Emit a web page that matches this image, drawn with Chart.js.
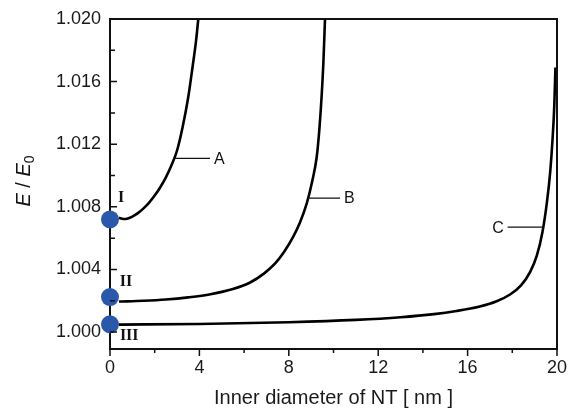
<!DOCTYPE html>
<html lang="en">

<head>
    <meta charset="UTF-8">
    <title>E/E0 vs inner diameter</title>
    <style>
        html, body { margin: 0; padding: 0; background: #fff; }
    </style>
</head>

<body>

    <div style="width: 569px; height: 412px;">
        <canvas id="myChart"></canvas>
    </div>

    <script src="https://cdn.jsdelivr.net/npm/chart.js"></script>
    <script>
        // curve A
        const aX = [0.4, 0.6, 0.8, 1.0, 1.25, 1.5, 1.75, 2.0, 2.25, 2.5, 2.75, 3.0, 3.25, 3.5, 3.7, 3.85, 3.95];
        const aY = [1.00730, 1.00722, 1.00726, 1.00738, 1.00760, 1.00790, 1.00827, 1.00872, 1.00925, 1.00988, 1.01065, 1.01160, 1.01310, 1.01500, 1.01700, 1.01860, 1.02000];
        // curve B
        const bX = [0.4, 1.5, 2.5, 3.5, 4.5, 5.5, 6.25, 6.9, 7.4, 7.8, 8.2, 8.5, 8.8, 9.05, 9.25, 9.37, 9.47, 9.55, 9.62];
        const bY = [1.00195, 1.00200, 1.00208, 1.00222, 1.00242, 1.00275, 1.00315, 1.00375, 1.00440, 1.00515, 1.00610, 1.00700, 1.00820, 1.00965, 1.01120, 1.01300, 1.01510, 1.01730, 1.02000];
        // curve C
        const cX = [0.4, 4, 8, 11, 13, 14.5, 15.5, 16.5, 17.3, 17.9, 18.4, 18.8, 19.1, 19.35, 19.55, 19.7, 19.8, 19.88, 19.93];
        const cY = [1.00048, 1.00052, 1.00063, 1.00078, 1.00095, 1.00115, 1.00135, 1.00162, 1.00197, 1.00240, 1.00300, 1.00385, 1.00490, 1.00640, 1.00830, 1.01030, 1.01230, 1.01450, 1.01690];
        // blue points at d = 0 (I, II, III)
        const dotY = [1.0072, 1.00224, 1.0005];
        const dotNames = ['I', 'II', 'III'];

        const xTicks = [0, 4, 8, 12, 16, 20];
        const xMinor = [2, 6, 10, 14, 18];
        const yTicks = [1.000, 1.004, 1.008, 1.012, 1.016, 1.020];
        const yMinor = [1.002, 1.006, 1.010, 1.014, 1.018];

        const pts = (xs, ys) => xs.map((x, i) => ({ x: x, y: ys[i] }));

        const SANS = '"Liberation Sans", Arial, sans-serif';
        const SERIF = '"Liberation Serif", "Times New Roman", serif';

        // leader lines for the curve names: start on the curve, run len px sideways
        const leaders = [
            { x: 2.82, y: 1.0111, len: 37, text: 'A', dir: 1 },
            { x: 8.86, y: 1.00856, len: 32, text: 'B', dir: 1 },
            { x: 19.36, y: 1.0067, len: 35, text: 'C', dir: -1 }
        ];
        const romanPos = [
            { x: 0.5, y: 1.0086 },
            { x: 0.72, y: 1.0032 },
            { x: 0.86, y: 0.99975 }
        ];

        const extras = {
            id: 'extras',
            afterDatasetsDraw(chart) {
                const c = chart.ctx;
                const xs = chart.scales.x, ys = chart.scales.y;
                const a = chart.chartArea;
                c.save();
                c.strokeStyle = '#111';
                c.fillStyle = '#111';
                // frame top / right
                c.lineWidth = 2;
                c.beginPath();
                c.moveTo(a.left, a.top);
                c.lineTo(a.right, a.top);
                c.lineTo(a.right, a.bottom);
                c.stroke();
                // y ticks, pointing inward
                c.lineWidth = 1.5;
                c.beginPath();
                yTicks.forEach(v => { const p = ys.getPixelForValue(v); c.moveTo(a.left, p); c.lineTo(a.left + 7, p); });
                yMinor.forEach(v => { const p = ys.getPixelForValue(v); c.moveTo(a.left, p); c.lineTo(a.left + 5, p); });
                // x ticks, pointing outward
                xTicks.forEach(v => { const p = xs.getPixelForValue(v); c.moveTo(p, a.bottom); c.lineTo(p, a.bottom + 7); });
                xMinor.forEach(v => { const p = xs.getPixelForValue(v); c.moveTo(p, a.bottom); c.lineTo(p, a.bottom + 4); });
                c.stroke();
                // curve labels
                c.lineWidth = 1.3;
                c.font = '16px ' + SANS;
                c.textBaseline = 'middle';
                leaders.forEach(l => {
                    const px = xs.getPixelForValue(l.x), py = ys.getPixelForValue(l.y);
                    c.beginPath();
                    c.moveTo(px, py);
                    c.lineTo(px + l.dir * l.len, py);
                    c.stroke();
                    c.textAlign = l.dir > 0 ? 'left' : 'right';
                    c.fillText(l.text, px + l.dir * (l.len + 4), py + 1);
                });
                // roman numerals
                c.font = 'bold 16px ' + SERIF;
                c.textAlign = 'center';
                romanPos.forEach((r, i) => {
                    c.fillText(dotNames[i], xs.getPixelForValue(r.x), ys.getPixelForValue(r.y));
                });
                // y axis title: E / E0
                c.translate(23, 181);
                c.rotate(-Math.PI / 2);
                c.textAlign = 'left';
                c.textBaseline = 'alphabetic';
                const big = '20px ' + SANS, it = 'italic 20px ' + SANS, sub = '14px ' + SANS;
                c.font = it; const w1 = c.measureText('E').width;
                c.font = big; const w2 = c.measureText(' / ').width;
                c.font = sub; const w3 = c.measureText('0').width;
                let x0 = -(w1 * 2 + w2 + w3) / 2;
                const base = 7;
                c.font = it; c.fillText('E', x0, base); x0 += w1;
                c.font = big; c.fillText(' / ', x0, base); x0 += w2;
                c.font = it; c.fillText('E', x0, base); x0 += w1;
                c.font = sub; c.fillText('0', x0, base + 4);
                c.restore();
            }
        };

        const ctx = document.getElementById('myChart');

        const curve = (label, data) => ({
            label: label,
            data: data,
            borderColor: '#000',
            borderWidth: 2.6,
            pointRadius: 0,
            fill: false,
            cubicInterpolationMode: 'monotone'
        });

        new Chart(ctx, {
            type: 'line',
            data: {
                datasets: [
                    curve('A', pts(aX, aY)),
                    curve('B', pts(bX, bY)),
                    curve('C', pts(cX, cY)),
                    {
                        label: 'points',
                        data: dotY.map(v => ({ x: 0, y: v })),
                        showLine: false,
                        pointRadius: 9,
                        pointHoverRadius: 9,
                        pointBackgroundColor: '#2a58aa',
                        pointBorderColor: '#2a58aa',
                        borderWidth: 0,
                        clip: false
                    }
                ]
            },
            options: {
                responsive: true,
                maintainAspectRatio: false,
                animation: false,
                layout: { padding: { top: 19, right: 12, left: 0, bottom: 0 } },
                scales: {
                    x: {
                        type: 'linear',
                        min: 0,
                        max: 20,
                        afterFit: s => { s.height = 63; s.paddingLeft = 0; s.paddingRight = 0; },
                        afterBuildTicks: s => { s.ticks = xTicks.map(v => ({ value: v })); },
                        grid: { display: false, drawTicks: false },
                        border: { display: true, color: '#111', width: 2 },
                        ticks: {
                            padding: 8,
                            color: '#1a1a1a',
                            font: { family: SANS, size: 18 },
                            maxRotation: 0
                        },
                        title: {
                            display: true,
                            text: 'Inner diameter of NT [ nm ]',
                            color: '#1a1a1a',
                            font: { family: SANS, size: 20 },
                            padding: { top: 0, bottom: 2 }
                        }
                    },
                    y: {
                        type: 'linear',
                        min: 0.99892,
                        max: 1.020,
                        afterFit: s => { s.width = 110; s.paddingTop = 0; s.paddingBottom = 0; },
                        afterBuildTicks: s => { s.ticks = yTicks.map(v => ({ value: v })); },
                        grid: { display: false, drawTicks: false },
                        border: { display: true, color: '#111', width: 2 },
                        ticks: {
                            padding: 9,
                            color: '#1a1a1a',
                            font: { family: SANS, size: 18 },
                            callback: v => v.toFixed(3)
                        }
                    }
                },
                plugins: {
                    legend: { display: false },
                    tooltip: { enabled: false }
                }
            },
            plugins: [extras]
        });
    </script>
</body>

</html>
